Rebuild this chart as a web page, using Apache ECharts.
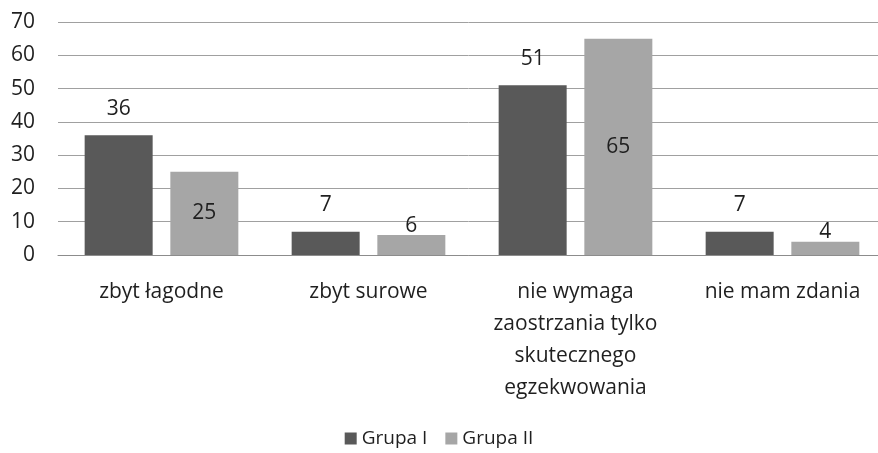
<!DOCTYPE html>
<html>
<head>
<meta charset="utf-8">
<script src="https://cdn.jsdelivr.net/npm/echarts@6/dist/echarts.min.js"></script>
<style>
  html, body { margin: 0; padding: 0; background: #fff; }
  #chart { width: 878px; height: 453px; }
</style>
</head>
<body>
<div id="chart"></div>
<script>
    // data
    var categories = ['zbyt łagodne', 'zbyt surowe', 'nie wymaga\nzaostrzania tylko\nskutecznego\negzekwowania', 'nie mam zdania'];
    var grupa1 = [36, 7, 51, 7];
    var grupa2 = [25, 6, 65, 4];
    var yTicks = [0, 10, 20, 30, 40, 50, 60, 70];

    var font = '"Open Sans", "Noto Sans", sans-serif';
    var txt = '#1f1f1f';

    // Grupa II labels sit inside the tall bars, just over the short ones
    var g2Data = grupa2.map(function (v) {
        if (v > 10) return { value: v, label: { position: 'inside' } };
        return { value: v, label: { position: 'top', distance: -1 } };
    });

    var chart = echarts.init(document.getElementById('chart'));
    chart.setOption({
        animation: false,
        textStyle: { fontFamily: font },
        // plot area runs a little past the right edge of the picture
        grid: { left: 58, width: 828, top: 22, bottom: 198, outerBoundsMode: 'none', containLabel: false },
        legend: {
            bottom: 0,
            left: 'center',
            itemWidth: 12,
            itemHeight: 12,
            itemGap: 18,
            icon: 'rect',
            textStyle: { fontSize: 19, color: txt, fontFamily: font },
            data: ['Grupa I', 'Grupa II']
        },
        xAxis: {
            type: 'category',
            data: categories,
            axisLine: { lineStyle: { color: '#8c8c8c', width: 1 } },
            axisTick: { show: false },
            axisLabel: { fontSize: 21, lineHeight: 32, color: txt, margin: 21, interval: 0, fontFamily: font }
        },
        yAxis: {
            type: 'value',
            min: yTicks[0],
            max: yTicks[yTicks.length - 1],
            interval: 10,
            axisLine: { show: false },
            axisTick: { show: false },
            splitLine: { lineStyle: { color: '#a0a0a0', width: 1 } },
            axisLabel: { fontSize: 21, color: txt, margin: 23, fontFamily: font }
        },
        series: [
            {
                name: 'Grupa I',
                type: 'bar',
                data: grupa1,
                barWidth: 68,
                barGap: '26%',
                itemStyle: { color: '#595959' },
                label: { show: true, position: 'top', distance: 16, fontSize: 21, color: txt, fontFamily: font }
            },
            {
                name: 'Grupa II',
                type: 'bar',
                data: g2Data,
                barWidth: 68,
                itemStyle: { color: '#a6a6a6' },
                label: { show: true, fontSize: 21, color: txt, fontFamily: font }
            }
        ]
    });
</script>
</body>
</html>
